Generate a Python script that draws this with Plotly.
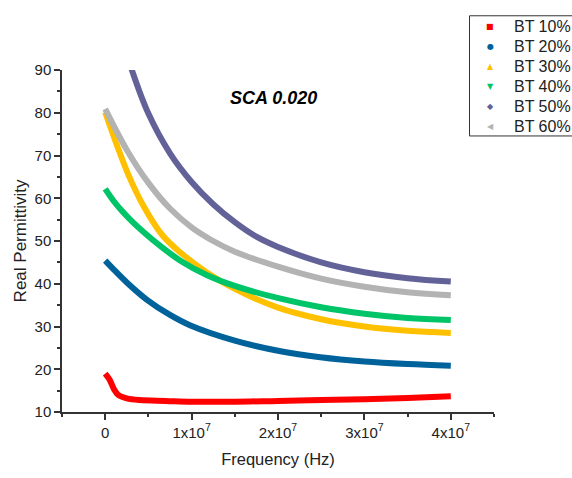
import plotly.graph_objects as go

# ---- data ----
series_names = ["BT 10%", "BT 20%", "BT 30%", "BT 40%", "BT 50%", "BT 60%"]

freq_bt10 = [0, 0.05e7, 0.1e7, 0.15e7, 0.25e7, 0.4e7, 0.7e7, 1e7, 1.5e7, 2e7, 2.5e7, 3e7, 3.5e7, 4e7]
eps_bt10 = [19.0, 17.6, 15.4, 14.0, 13.2, 12.8, 12.6, 12.4, 12.4, 12.6, 12.8, 13.0, 13.3, 13.7]

freq_bt20 = [0, 0.1e7, 0.25e7, 0.48e7, 0.75e7, 0.98e7, 1.5e7, 2.03e7, 2.49e7, 3e7, 3.5e7, 4e7]
eps_bt20 = [45.4, 43.3, 40.3, 36.3, 32.7, 30.3, 26.7, 24.2, 22.8, 21.8, 21.2, 20.8]

freq_bt30 = [0, 0.125e7, 0.27e7, 0.44e7, 0.66e7, 0.87e7, 1.18e7, 1.5e7, 2.0e7, 2.5e7, 3.0e7, 3.5e7, 4.0e7]
eps_bt30 = [80.1, 73.0, 65.4, 58.3, 51.4, 47.3, 42.6, 38.8, 34.4, 31.7, 30.0, 29.0, 28.5]

freq_bt40 = [0, 0.1e7, 0.2e7, 0.31e7, 0.45e7, 0.64e7, 0.87e7, 1.18e7, 1.5e7, 2.03e7, 2.5e7, 3.0e7, 3.5e7, 4.0e7]
eps_bt40 = [62.2, 59.3, 56.9, 54.6, 52.0, 48.8, 45.4, 42.0, 39.5, 36.5, 34.5, 33.0, 32.0, 31.5]

freq_bt50 = [0.3e7, 0.5e7, 0.75e7, 1.0e7, 1.25e7, 1.5e7, 1.75e7, 2.0e7, 2.5e7, 3.0e7, 3.5e7, 4.0e7]
eps_bt50 = [90.5, 79.8, 70.5, 63.8, 58.6, 54.4, 51.0, 48.6, 45.0, 42.7, 41.3, 40.5]

freq_bt60 = [0, 0.25e7, 0.5e7, 0.75e7, 1.0e7, 1.25e7, 1.5e7, 2.0e7, 2.5e7, 3.0e7, 3.5e7, 4.0e7]
eps_bt60 = [80.9, 71.3, 63.6, 57.6, 53.2, 50.0, 47.5, 44.0, 41.2, 39.3, 38.0, 37.3]

x_tickvals = [0, 1e7, 2e7, 3e7, 4e7]
x_ticktext = ["0", "1x10<sup>7</sup>", "2x10<sup>7</sup>", "3x10<sup>7</sup>", "4x10<sup>7</sup>"]
x_minor_vals = [-0.5e7, 0.5e7, 1.5e7, 2.5e7, 3.5e7, 4.5e7]

colors = ["#FF0000", "#00629B", "#FFC000", "#00C468", "#626299", "#B3B3B3"]
legend_glyphs = ["\u25A0", "\u25CF", "\u25B2", "\u25BC", "\u25C6", "\u25C0"]

xs = [freq_bt10, freq_bt20, freq_bt30, freq_bt40, freq_bt50, freq_bt60]
ys = [eps_bt10, eps_bt20, eps_bt30, eps_bt40, eps_bt50, eps_bt60]

FONT = "Arial, Liberation Sans, sans-serif"

# plot area in pixels (for converting legend placement to paper coords)
L, R, T, B, W, H = 62, 78, 70, 58, 572, 478
PW, PH = W - L - R, H - T - B


def px_x(p):
    return (p - L) / PW


def px_y(p):
    return (H - B - p) / PH


fig = go.Figure()
for name, x, y, c in zip(series_names, xs, ys, colors):
    fig.add_trace(go.Scatter(x=x, y=y, mode="lines", name=name, showlegend=False,
                             line=dict(color=c, width=6, shape="spline", smoothing=1.0)))

axis_common = dict(showline=True, linecolor="#333333", linewidth=1.5, ticks="outside",
                   ticklen=6, tickwidth=1.5, tickcolor="#333333", showgrid=False,
                   zeroline=False, mirror=False,
                   tickfont=dict(family=FONT, size=15, color="#222222"))

fig.update_xaxes(range=[-0.5e7, 4.5e7], tickmode="array", tickvals=x_tickvals, ticktext=x_ticktext,
                 minor=dict(tickmode="array", tickvals=x_minor_vals, ticks="outside", ticklen=3,
                            tickwidth=1.5, tickcolor="#333333"),
                 title=dict(text="Frequency (Hz)", font=dict(family=FONT, size=16.5, color="#222222"),
                            standoff=14),
                 **axis_common)
fig.update_yaxes(range=[10, 90], tickmode="linear", tick0=10, dtick=10,
                 minor=dict(dtick=5, ticks="outside", ticklen=3, tickwidth=1.5, tickcolor="#333333"),
                 title=dict(text="Real Permittivity", font=dict(family=FONT, size=17, color="#222222"),
                            standoff=4),
                 **axis_common)

fig.add_annotation(text="<b><i>SCA 0.020</i></b>", x=px_x(273), y=px_y(86),
                   xref="paper", yref="paper", showarrow=False,
                   font=dict(family=FONT, size=18, color="#000000"))

# legend box (cut off by the right edge, as in the reference)
fig.add_shape(type="rect", xref="paper", yref="paper",
              x0=px_x(469.5), x1=px_x(600), y0=px_y(137.5), y1=px_y(14.5),
              line=dict(color="#333333", width=1), fillcolor="white", layer="above")
row_y = [25, 45.5, 66, 86.5, 107, 127.5]
for name, c, g, ry in zip(series_names, colors, legend_glyphs, row_y):
    fig.add_annotation(text=g, x=px_x(490), y=px_y(ry), xref="paper", yref="paper",
                       showarrow=False, xanchor="center", yanchor="middle",
                       font=dict(family="DejaVu Sans", size=8, color=c))
    fig.add_annotation(text=name, x=px_x(512), y=px_y(ry), xref="paper", yref="paper",
                       showarrow=False, xanchor="left", yanchor="middle",
                       font=dict(family=FONT, size=16, color="#222222"))

fig.update_layout(
    width=W, height=H,
    margin=dict(l=L, r=R, t=T, b=B),
    paper_bgcolor="white", plot_bgcolor="white",
    showlegend=False,
)

fig.write_html("out.html")
